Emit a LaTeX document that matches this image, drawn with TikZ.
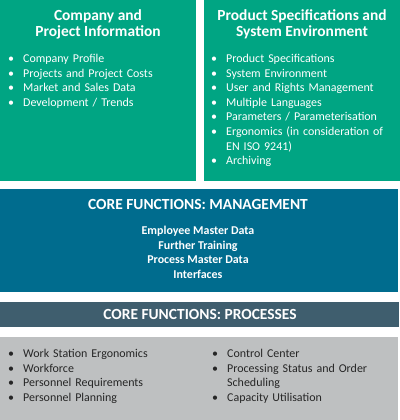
\documentclass[tikz,border=0pt]{standalone}
\usepackage{fontspec}
\setmainfont{Carlito}

\definecolor{infogreen}{RGB}{0,165,131}
\definecolor{mgmtblue}{RGB}{0,108,142}
\definecolor{procslate}{RGB}{63,94,110}
\definecolor{procgray}{RGB}{190,192,193}
\definecolor{darktext}{RGB}{38,38,38}

\newcommand{\bitem}[1]{\par\noindent\hangindent=15bp\hangafter=1\makebox[15bp][l]{\textbullet}#1}

\tikzset{
	heading/.style={text=white, font=\fontsize{15.5}{16}\selectfont\bfseries, align=center, inner sep=0pt},
	itemlist/.style={text=white, font=\fontsize{12}{14.6}\selectfont, text width=#1, align=left, inner sep=0pt, anchor=north west},
	boldlist/.style={text=white, font=\fontsize{12}{14.6}\selectfont\bfseries, align=center, inner sep=0pt, anchor=north}
}

\begin{document}
\begin{tikzpicture}[x=1bp,y=-1bp]
		\useasboundingbox (0,0) rectangle (400,420);

		% Background boxes
		\fill[infogreen] (0,0) rectangle (196,181);
		\fill[infogreen] (204,0) rectangle (400,181);
		\fill[mgmtblue] (0,189) rectangle (398,292);
		\fill[procslate] (0,302) rectangle (399,327);
		\fill[procgray] (0,337) rectangle (398,420);

		% Company and project information
		\node[heading] (company) at (98,24) {Company and\\Project Information};
		\node[itemlist=185bp] (companylist) at (8,48) {%
			\bitem{Company Profile}
			\bitem{Projects and Project Costs}
			\bitem{Market and Sales Data}
			\bitem{Development / Trends}};

		% Product specifications and system environment
		\node[heading] (product) at (302,24) {Product Specifications and\\System Environment};
		\node[itemlist=186bp] (productlist) at (211,48) {%
			\bitem{Product Specifications}
			\bitem{System Environment}
			\bitem{User and Rights Management}
			\bitem{Multiple Languages}
			\bitem{Parameters / Parameterisation}
			\bitem{Ergonomics (in consideration of\newline EN ISO 9241)}
			\bitem{Archiving}};

		% Management
		\node[heading] (mgmt) at (198,204) {CORE FUNCTIONS: MANAGEMENT};
		\node[boldlist] (mgmtlist) at (198,226) {Employee Master Data\\Further Training\\Process Master Data\\Interfaces};

		% Processes
		\node[heading] (proc) at (200,314) {CORE FUNCTIONS: PROCESSES};
		\node[itemlist=195bp, text=darktext] (proclistleft) at (8,343) {%
			\bitem{Work Station Ergonomics}
			\bitem{Workforce}
			\bitem{Personnel Requirements}
			\bitem{Personnel Planning}};
		\node[itemlist=185bp, text=darktext] (proclistright) at (212,343) {%
			\bitem{Control Center}
			\bitem{Processing Status and Order\newline Scheduling}
			\bitem{Capacity Utilisation}};
	\end{tikzpicture}
\end{document}
